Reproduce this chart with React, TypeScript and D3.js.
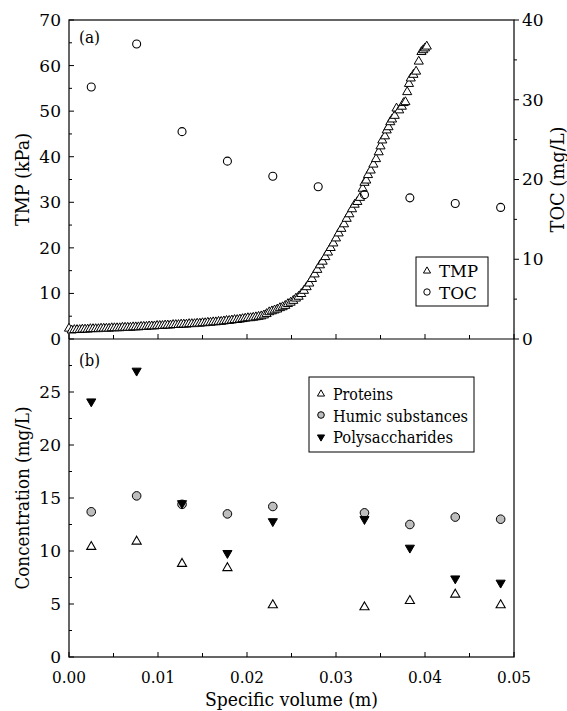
import React from 'react';
import * as d3 from 'd3';

// TMP vs specific volume (top panel, left axis)
const tmpVolume = [
  0.0, 0.0003, 0.0006, 0.0009, 0.0012, 0.0015, 0.0018, 0.0021, 0.0024, 0.0027,
  0.003, 0.0033, 0.0036, 0.0039, 0.0042, 0.0045, 0.0048, 0.0051, 0.0054, 0.0057,
  0.006, 0.0063, 0.0066, 0.0069, 0.0072, 0.0075, 0.0078, 0.0081, 0.0084, 0.0087,
  0.009, 0.0093, 0.0096, 0.0099, 0.0102, 0.0105, 0.0108, 0.0111, 0.0114, 0.0117,
  0.012, 0.0123, 0.0126, 0.0129, 0.0132, 0.0135, 0.0138, 0.0141, 0.0144, 0.0147,
  0.015, 0.0153, 0.0156, 0.0159, 0.0162, 0.0165, 0.0168, 0.0171, 0.0174, 0.0177,
  0.018, 0.0183, 0.0186, 0.0189, 0.0192, 0.0195, 0.0198, 0.0201, 0.0204, 0.0207,
  0.021, 0.0213, 0.0216, 0.0219, 0.0222, 0.0225, 0.0228, 0.0231, 0.0234, 0.0237,
  0.024, 0.0243, 0.0246, 0.0249, 0.0252, 0.0255, 0.0258, 0.0261, 0.0264, 0.0267,
  0.027, 0.0273, 0.0276, 0.0279, 0.0282, 0.0285, 0.0288, 0.0291, 0.0294, 0.0297,
  0.03, 0.0303, 0.0306, 0.0309, 0.0312, 0.0315, 0.0318, 0.0321, 0.0324, 0.0327,
  0.033, 0.0332, 0.0334, 0.0336, 0.0339, 0.0342, 0.0345, 0.0348, 0.035, 0.0352,
  0.0355, 0.0357, 0.0359, 0.0361, 0.0363, 0.0366, 0.0368, 0.0371, 0.0374, 0.0376,
  0.0378, 0.038, 0.0382, 0.0384, 0.0387, 0.039, 0.0393, 0.0396, 0.0398, 0.04,
  0.0402,
];
const tmpValues = [
  2.3, 1.9, 2.0, 2.0, 2.0, 2.1, 2.1, 2.1, 2.2, 2.2,
  2.2, 2.2, 2.3, 2.3, 2.3, 2.3, 2.4, 2.4, 2.4, 2.4,
  2.5, 2.5, 2.5, 2.5, 2.6, 2.6, 2.6, 2.7, 2.7, 2.7,
  2.8, 2.8, 2.8, 2.9, 2.9, 2.9, 3.0, 3.0, 3.0, 3.1,
  3.1, 3.1, 3.2, 3.2, 3.2, 3.3, 3.3, 3.3, 3.4, 3.4,
  3.5, 3.5, 3.6, 3.6, 3.7, 3.7, 3.8, 3.8, 3.9, 4.0,
  4.0, 4.1, 4.2, 4.2, 4.3, 4.4, 4.5, 4.6, 4.6, 4.7,
  4.8, 4.9, 5.0, 5.2, 5.5, 5.9, 6.1, 6.3, 6.5, 6.8,
  7.0, 7.3, 7.7, 8.0, 8.4, 8.9, 9.3, 9.9, 10.6, 11.4,
  12.2, 13.2, 14.2, 15.2, 16.2, 17.0, 18.0, 19.0, 20.0, 21.0,
  22.1, 23.2, 24.2, 25.2, 26.4, 27.4, 28.5, 29.5, 30.1, 31.0,
  33.0, 34.3, 34.8, 36.0, 37.0, 38.3, 39.5, 41.0, 42.3, 43.6,
  44.5, 45.8, 46.5, 47.6, 48.2, 49.0, 50.6, 50.2, 51.0, 51.8,
  52.0, 54.2, 56.0, 57.2, 58.0, 58.7, 60.9, 63.0, 63.4, 63.8,
  64.2,
];

// TOC samples (top panel, right axis)
const tocVolume = [0.0025, 0.0076, 0.0127, 0.0178, 0.0229, 0.028, 0.0332, 0.0383, 0.0434, 0.0485];
const tocValues = [31.6, 37.0, 26.0, 22.3, 20.4, 19.1, 18.1, 17.7, 17.0, 16.5];

// EPS fractions (bottom panel)
const epsVolume = [0.0025, 0.0076, 0.0127, 0.0178, 0.0229, 0.0332, 0.0383, 0.0434, 0.0485];
const proteins = [10.4, 10.9, 8.8, 8.4, 4.9, 4.7, 5.3, 5.9, 4.9];
const humic = [13.7, 15.2, 14.4, 13.5, 14.2, 13.6, 12.5, 13.2, 13.0];
const polysaccharides = [24.1, 27.0, 14.5, 9.8, 12.8, 13.0, 10.3, 7.4, 7.0];

const xTicks = [0, 0.01, 0.02, 0.03, 0.04, 0.05];
const tmpTicks = [0, 10, 20, 30, 40, 50, 60, 70];
const tocTicks = [0, 10, 20, 30, 40];
const concTicks = [0, 5, 10, 15, 20, 25];

const W = 567, H = 711;
const left = 69, right = 514, top = 20, mid = 339, bottom = 657;
const font = 'DejaVu Serif';
const fit = 'spacingAndGlyphs';

const App = () => {
  const x = d3.scaleLinear().domain([0, 0.05]).range([left, right]);
  const yTmp = d3.scaleLinear().domain([0, 70]).range([mid, top]);
  const yToc = d3.scaleLinear().domain([0, 40]).range([mid, top]);
  const yConc = d3.scaleLinear().domain([0, 30]).range([bottom, mid]);

  const triUp = d3.symbol(d3.symbolTriangle, 36)();
  const triSmall = d3.symbol(d3.symbolTriangle, 22)();

  const xMinor = d3.range(0, 0.0501, 0.005);

  const xAxisTicks = (y0: number, key: string) =>
    xMinor.map((t, i) => (
      <line key={key + i} x1={x(t)} x2={x(t)} y1={y0} y2={y0 - (i % 2 === 0 ? 5 : 4)} stroke="#000" />
    ));

  return (
    <div style={{ position: 'absolute', left: 0, top: 0 }}>
      <svg width={W} height={H} style={{ display: 'block', background: '#fff' }}>
        <g fontFamily={font}>
        {/* frames */}
        <rect x={left} y={top} width={right - left} height={bottom - top} fill="none" stroke="#000" strokeWidth={1.2} />
        <line x1={left} x2={right} y1={mid} y2={mid} stroke="#000" strokeWidth={1.2} />

        {/* x ticks, both panels */}
        {xAxisTicks(mid, 'tm')}
        {xAxisTicks(bottom, 'bm')}
        {xTicks.map((t) => (
          <text key={'xl' + t} x={x(t)} y={683} fontSize={17} textAnchor="middle" textLength={34} lengthAdjust={fit}>
            {t.toFixed(2)}
          </text>
        ))}
        <text x={(left + right) / 2} y={706} fontSize={19} textAnchor="middle" textLength={173} lengthAdjust={fit}>
          Specific volume (m)
        </text>

        {/* left axis top */}
        {d3.range(0, 70.1, 5).map((t) => (
          <line key={'tl' + t} x1={left} x2={left + (t % 10 === 0 ? 5 : 3)} y1={yTmp(t)} y2={yTmp(t)} stroke="#000" />
        ))}
        {tmpTicks.map((t) => (
          <text key={'tll' + t} x={61} y={yTmp(t)} dy="0.35em" fontSize={17} textAnchor="end">
            {t}
          </text>
        ))}
        <text transform={`translate(22,${(top + mid) / 2}) rotate(-90)`} fontSize={19} textAnchor="middle" dy="0.35em" textLength={93} lengthAdjust={fit}>
          TMP (kPa)
        </text>

        {/* right axis top */}
        {d3.range(0, 40.1, 5).map((t) => (
          <line key={'tr' + t} x1={right} x2={right + (t % 10 === 0 ? 5 : 3)} y1={yToc(t)} y2={yToc(t)} stroke="#000" />
        ))}
        {tocTicks.map((t) => (
          <text key={'trl' + t} x={522} y={yToc(t)} dy="0.35em" fontSize={17} textAnchor="start">
            {t}
          </text>
        ))}
        <text transform={`translate(557,${(top + mid) / 2}) rotate(-90)`} fontSize={19} textAnchor="middle" dy="0.35em" textLength={106} lengthAdjust={fit}>
          TOC (mg/L)
        </text>

        {/* left axis bottom */}
        {d3.range(0, 30, 2.5).map((t, i) => (
          <line key={'bl' + t} x1={left} x2={left + (i % 2 === 0 ? 5 : 3)} y1={yConc(t)} y2={yConc(t)} stroke="#000" />
        ))}
        {concTicks.map((t) => (
          <text key={'bll' + t} x={61} y={yConc(t)} dy="0.35em" fontSize={17} textAnchor="end">
            {t}
          </text>
        ))}
        <text transform={`translate(22,${(mid + bottom) / 2}) rotate(-90)`} fontSize={19} textAnchor="middle" dy="0.35em" textLength={183} lengthAdjust={fit}>
          Concentration (mg/L)
        </text>

        {/* panel labels */}
        <text x={79} y={43} fontSize={16} textLength={21} lengthAdjust={fit}>(a)</text>
        <text x={79} y={366} fontSize={16} textLength={21} lengthAdjust={fit}>(b)</text>

        {/* TMP */}
        {tmpVolume.map((v, i) => (
          <path key={'tmp' + i} d={triUp!} transform={`translate(${x(v)},${yTmp(tmpValues[i])})`} fill="#fff" stroke="#000" strokeWidth={1} />
        ))}
        {/* TOC */}
        {tocVolume.map((v, i) => (
          <circle key={'toc' + i} cx={x(v)} cy={yToc(tocValues[i])} r={4} fill="none" stroke="#000" strokeWidth={1.1} />
        ))}

        {/* legend top */}
        <rect x={416} y={257} width={72} height={49} fill="#fff" stroke="#000" strokeWidth={1} />
        <path d={triSmall!} transform="translate(427,271)" fill="#fff" stroke="#000" />
        <text x={439} y={277} fontSize={17} textLength={39} lengthAdjust={fit}>TMP</text>
        <circle cx={427} cy={292} r={3.2} fill="none" stroke="#000" />
        <text x={439} y={298.5} fontSize={17} textLength={38} lengthAdjust={fit}>TOC</text>

        {/* EPS */}
        {epsVolume.map((v, i) => (
          <path key={'pr' + i} d={triUp!} transform={`translate(${x(v)},${yConc(proteins[i])})`} fill="#fff" stroke="#000" strokeWidth={1.1} />
        ))}
        {epsVolume.map((v, i) => (
          <circle key={'hu' + i} cx={x(v)} cy={yConc(humic[i])} r={4.3} fill="#bdbdbd" stroke="#000" strokeWidth={1} />
        ))}
        {epsVolume.map((v, i) => (
          <path key={'ps' + i} d={triUp!} transform={`translate(${x(v)},${yConc(polysaccharides[i])}) rotate(180)`} fill="#000" stroke="#000" strokeWidth={1} />
        ))}

        {/* legend bottom */}
        <rect x={309} y={377} width={165} height={75} fill="#fff" stroke="#000" strokeWidth={1} />
        <path d={triSmall!} transform="translate(321,394)" fill="#fff" stroke="#000" />
        <text x={333} y={400} fontSize={17} textLength={60} lengthAdjust={fit}>Proteins</text>
        <circle cx={321} cy={415} r={3.3} fill="#bdbdbd" stroke="#000" />
        <text x={333} y={421.5} fontSize={17} textLength={135} lengthAdjust={fit}>Humic substances</text>
        <path d={triSmall!} transform="translate(321,437) rotate(180)" fill="#000" stroke="#000" />
        <text x={333} y={443} fontSize={17} textLength={120} lengthAdjust={fit}>Polysaccharides</text>
        </g>
      </svg>
    </div>
  );
};

export default App;
